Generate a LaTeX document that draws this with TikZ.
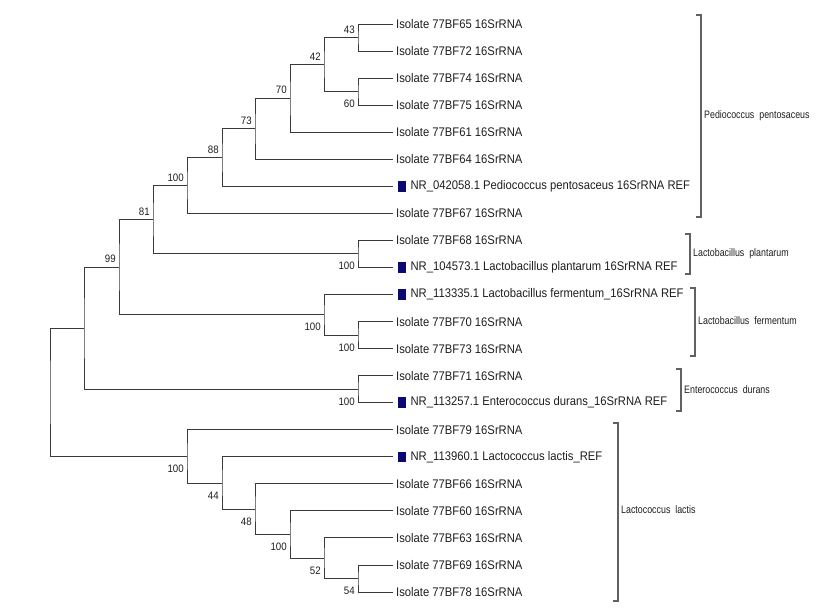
\documentclass[tikz,border=0pt]{standalone}
\usepackage{fontspec}
\setmainfont{Liberation Sans}
\newfontfamily\leaffont[FakeStretch=0.9]{Liberation Sans}
\newfontfamily\bsfont[FakeStretch=0.9]{Liberation Sans}
\newfontfamily\cladefont[FakeStretch=0.82]{Liberation Sans}
\definecolor{branch}{HTML}{3A3A3A}
\definecolor{txt}{HTML}{1E1E1E}
\definecolor{refsq}{HTML}{0A0A70}
\begin{document}
\begin{tikzpicture}[x=1pt,y=-1pt,
  br/.style={draw=branch,line width=1pt},
  leaf/.style={anchor=west,inner sep=0pt,text=txt,font=\leaffont\fontsize{12.5}{12.5}\selectfont},
  refbox/.style={fill=refsq,minimum width=8pt,minimum height=10.5pt,inner sep=0pt,anchor=west},
  bsa/.style={anchor=base east,inner sep=0pt,text=txt,font=\bsfont\fontsize{10.8}{10.8}\selectfont},
  clade/.style={anchor=west,inner sep=0pt,text=txt,font=\cladefont\fontsize{10.8}{10.8}\selectfont},
  bracket/.style={draw=branch!80,line width=1.1pt}]
\useasboundingbox (0,0) rectangle (822,613);
% leaf tips
\foreach \i/\y in {1/24,2/51.05,3/78.1,4/105.15,5/132.2,6/159.25,7/186.3,8/213.35,9/240.4,10/267.45,11/294.5,12/321.55,13/348.6,14/375.65,15/402.7,16/429.75,17/456.8,18/483.85,19/510.9,20/537.95,21/565,22/592.05}
  \coordinate (t\i) at (393,\y);
% internal nodes
\coordinate (n43) at (358,37.5);
\coordinate (n60) at (358,91.6);
\coordinate (n42) at (324,64.6);
\coordinate (n70) at (290,98.4);
\coordinate (n73) at (255,128.8);
\coordinate (n88) at (222,157.6);
\coordinate (nPa) at (187,185.5);
\coordinate (nPl) at (358,253.9);
\coordinate (n81) at (153,219.7);
\coordinate (nF2) at (358,335.1);
\coordinate (nF) at (324,314.8);
\coordinate (n99) at (119,267.2);
\coordinate (nD) at (358,389.2);
\coordinate (nA) at (84,328.2);
\coordinate (n54) at (358,578.5);
\coordinate (n52) at (324,558.2);
\coordinate (nLc) at (290,534.6);
\coordinate (n48) at (255,509.2);
\coordinate (n44) at (222,483.0);
\coordinate (nL) at (187,456.4);
\coordinate (root) at (50,392.3);
% branches
\draw[br] (t1) -| (n43) |- (t2);
\draw[br] (t3) -| (n60) |- (t4);
\draw[br] (n43) -| (n42) |- (n60);
\draw[br] (n42) -| (n70) |- (t5);
\draw[br] (n70) -| (n73) |- (t6);
\draw[br] (n73) -| (n88) |- (t7);
\draw[br] (n88) -| (nPa) |- (t8);
\draw[br] (t9) -| (nPl) |- (t10);
\draw[br] (nPa) -| (n81) |- (nPl);
\draw[br] (t12) -| (nF2) |- (t13);
\draw[br] (t11) -| (nF) |- (nF2);
\draw[br] (n81) -| (n99) |- (nF);
\draw[br] (t14) -| (nD) |- (t15);
\draw[br] (n99) -| (nA) |- (nD);
\draw[br] (t21) -| (n54) |- (t22);
\draw[br] (t20) -| (n52) |- (n54);
\draw[br] (t19) -| (nLc) |- (n52);
\draw[br] (t18) -| (n48) |- (nLc);
\draw[br] (t17) -| (n44) |- (n48);
\draw[br] (t16) -| (nL) |- (n44);
\draw[br] (nA) -| (root) |- (nL);
% bootstrap values (above: yshift up; below: yshift down)
\node[bsa] (b43) at ([xshift=-3pt,yshift=4.5pt]n43) {43};
\node[bsa] (b42) at ([xshift=-3pt,yshift=4.5pt]n42) {42};
\node[bsa] (b60) at ([xshift=-3pt,yshift=-16pt]n60) {60};
\node[bsa] (b70) at ([xshift=-3pt,yshift=4.5pt]n70) {70};
\node[bsa] (b73) at ([xshift=-3pt,yshift=4.5pt]n73) {73};
\node[bsa] (b88) at ([xshift=-3pt,yshift=4.5pt]n88) {88};
\node[bsa] (bPa) at ([xshift=-3pt,yshift=4.5pt]nPa) {100};
\node[bsa] (b81) at ([xshift=-3pt,yshift=4.5pt]n81) {81};
\node[bsa] (bPl) at ([xshift=-3pt,yshift=-16pt]nPl) {100};
\node[bsa] (b99) at ([xshift=-3pt,yshift=4.5pt]n99) {99};
\node[bsa] (bF) at ([xshift=-3pt,yshift=-16pt]nF) {100};
\node[bsa] (bF2) at ([xshift=-3pt,yshift=-16pt]nF2) {100};
\node[bsa] (bD) at ([xshift=-3pt,yshift=-16pt]nD) {100};
\node[bsa] (bL) at ([xshift=-3pt,yshift=-16pt]nL) {100};
\node[bsa] (b44) at ([xshift=-3pt,yshift=-16pt]n44) {44};
\node[bsa] (b48) at ([xshift=-3pt,yshift=-16pt]n48) {48};
\node[bsa] (bLc) at ([xshift=-3pt,yshift=-16pt]nLc) {100};
\node[bsa] (b52) at ([xshift=-3pt,yshift=-16pt]n52) {52};
\node[bsa] (b54) at ([xshift=-3pt,yshift=-16pt]n54) {54};
% leaf labels
\node[leaf] (l1) at ([xshift=3pt]t1) {Isolate 77BF65 16SrRNA};
\node[leaf] (l2) at ([xshift=3pt]t2) {Isolate 77BF72 16SrRNA};
\node[leaf] (l3) at ([xshift=3pt]t3) {Isolate 77BF74 16SrRNA};
\node[leaf] (l4) at ([xshift=3pt]t4) {Isolate 77BF75 16SrRNA};
\node[leaf] (l5) at ([xshift=3pt]t5) {Isolate 77BF61 16SrRNA};
\node[leaf] (l6) at ([xshift=3pt]t6) {Isolate 77BF64 16SrRNA};
\node[refbox] (s7) at ([xshift=5pt]t7) {};
\node[leaf] (l7) at ([xshift=4pt]s7.east) {NR\_042058.1 Pediococcus pentosaceus 16SrRNA REF};
\node[leaf] (l8) at ([xshift=3pt]t8) {Isolate 77BF67 16SrRNA};
\node[leaf] (l9) at ([xshift=3pt]t9) {Isolate 77BF68 16SrRNA};
\node[refbox] (s10) at ([xshift=5pt]t10) {};
\node[leaf] (l10) at ([xshift=4pt]s10.east) {NR\_104573.1 Lactobacillus plantarum 16SrRNA REF};
\node[refbox] (s11) at ([xshift=5pt]t11) {};
\node[leaf] (l11) at ([xshift=4pt]s11.east) {NR\_113335.1 Lactobacillus fermentum\_16SrRNA REF};
\node[leaf] (l12) at ([xshift=3pt]t12) {Isolate 77BF70 16SrRNA};
\node[leaf] (l13) at ([xshift=3pt]t13) {Isolate 77BF73 16SrRNA};
\node[leaf] (l14) at ([xshift=3pt]t14) {Isolate 77BF71 16SrRNA};
\node[refbox] (s15) at ([xshift=5pt]t15) {};
\node[leaf] (l15) at ([xshift=4pt]s15.east) {NR\_113257.1 Enterococcus durans\_16SrRNA REF};
\node[leaf] (l16) at ([xshift=3pt]t16) {Isolate 77BF79 16SrRNA};
\node[refbox] (s17) at ([xshift=5pt]t17) {};
\node[leaf] (l17) at ([xshift=4pt]s17.east) {NR\_113960.1 Lactococcus lactis\_REF};
\node[leaf] (l18) at ([xshift=3pt]t18) {Isolate 77BF66 16SrRNA};
\node[leaf] (l19) at ([xshift=3pt]t19) {Isolate 77BF60 16SrRNA};
\node[leaf] (l20) at ([xshift=3pt]t20) {Isolate 77BF63 16SrRNA};
\node[leaf] (l21) at ([xshift=3pt]t21) {Isolate 77BF69 16SrRNA};
\node[leaf] (l22) at ([xshift=3pt]t22) {Isolate 77BF78 16SrRNA};
% clade brackets
\draw[bracket] (696,15) -- (701,15) -- (701,217) -- (696,217);
\node[clade] (c1) at (704,116) {Pediococcus\ \ pentosaceus};
\draw[bracket] (685,234) -- (690,234) -- (690,274) -- (685,274);
\node[clade] (c2) at (693,254) {Lactobacillus\ \ plantarum};
\draw[bracket] (690,288) -- (695,288) -- (695,356) -- (690,356);
\node[clade] (c3) at (698,321) {Lactobacillus\ \ fermentum};
\draw[bracket] (676,369) -- (681,369) -- (681,411) -- (676,411);
\node[clade] (c4) at (684,390) {Enterococcus\ \ durans};
\draw[bracket] (613,423) -- (618,423) -- (618,601) -- (613,601);
\node[clade] (c5) at (621,510) {Lactococcus\ \ lactis};
\end{tikzpicture}
\end{document}
